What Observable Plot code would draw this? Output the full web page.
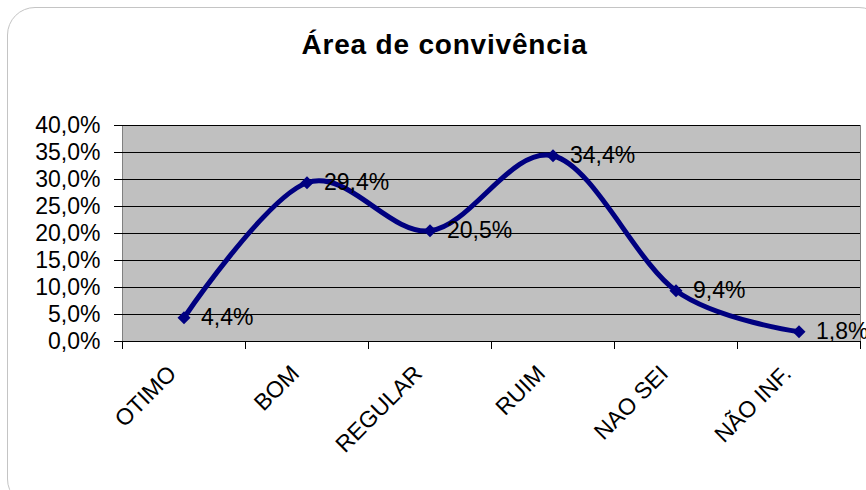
<!DOCTYPE html>
<html>
<head>
<meta charset="utf-8">
<script src="https://cdn.jsdelivr.net/npm/d3@7"></script>
<script src="https://cdn.jsdelivr.net/npm/@observablehq/plot@0.6"></script>
<style>
  html, body { margin: 0; padding: 0; background: #fff; }
  #wrap { position: relative; width: 866px; height: 490px; overflow: hidden; font-family: "Liberation Sans", Arial, sans-serif; }
  #border { position: absolute; left: 7px; top: 7px; width: 880px; height: 500px; border: 1px solid #c4c4c4; border-radius: 28px; box-sizing: border-box; }
  #title { position: absolute; left: 444.5px; top: 31px; transform: translateX(-50%); font-size: 28px; line-height: 28px; font-weight: bold; letter-spacing: 0.8px; white-space: nowrap; color: #000; }
  #chart { position: absolute; left: 0; top: 0; }
</style>
</head>
<body>
<div id="wrap">
  <div id="border"></div>
  <div id="chart"></div>
  <div id="title">Área de convivência</div>
</div>
<script>
const categories = ["OTIMO", "BOM", "REGULAR", "RUIM", "NAO SEI", "NÃO INF."];
const values = [0.044, 0.294, 0.205, 0.344, 0.094, 0.018];
const valueLabels = ["4,4%", "29,4%", "20,5%", "34,4%", "9,4%", "1,8%"];
const yTicks = [0, 0.05, 0.10, 0.15, 0.20, 0.25, 0.30, 0.35, 0.40];
const yTickLabels = ["0,0%", "5,0%", "10,0%", "15,0%", "20,0%", "25,0%", "30,0%", "35,0%", "40,0%"];

const data = categories.map((c, i) => ({i, cat: c, v: values[i], label: valueLabels[i]}));
const boundaries = d3.range(categories.length + 1).map(i => i - 0.5);

const chart = Plot.plot({
  width: 866,
  height: 490,
  marginLeft: 122,
  marginRight: 6,
  marginTop: 125,
  marginBottom: 149,
  style: {fontFamily: "'Liberation Sans', Arial, sans-serif", fontSize: "23px", background: "transparent", overflow: "visible", color: "#000"},
  x: {type: "linear", domain: [-0.5, categories.length - 0.5], axis: null},
  y: {domain: [0, 0.4]},
  marks: [
    Plot.frame({fill: "#c0c0c0", stroke: "#808080"}),
    Plot.ruleY(yTicks, {stroke: "#000", strokeWidth: 1}),
    Plot.axisY({ticks: yTicks, tickFormat: d => yTickLabels[yTicks.indexOf(d)], tickSize: 8, tickPadding: 14, fontSize: 23, label: null, stroke: "#000"}),
    Plot.axisX({ticks: boundaries, tickFormat: () => "", tickSize: 8, label: null, stroke: "#000"}),
    Plot.text(data, {x: "i", text: "cat", frameAnchor: "bottom", rotate: -45, textAnchor: "end", lineAnchor: "top", dx: -18, dy: 22, fontSize: 23, fill: "#000"}),
    Plot.line(data, {x: "i", y: "v", curve: "cardinal", stroke: "#000080", strokeWidth: 5, strokeLinejoin: "round"}),
    Plot.dot(data, {x: "i", y: "v", symbol: "square", rotate: 45, r: 5.2, fill: "#000080", stroke: "none"}),
    Plot.text(data, {x: "i", y: "v", text: "label", textAnchor: "start", lineAnchor: "middle", dx: 17, fontSize: 23, fill: "#000"})
  ]
});
document.getElementById("chart").appendChild(chart);
</script>
</body>
</html>
